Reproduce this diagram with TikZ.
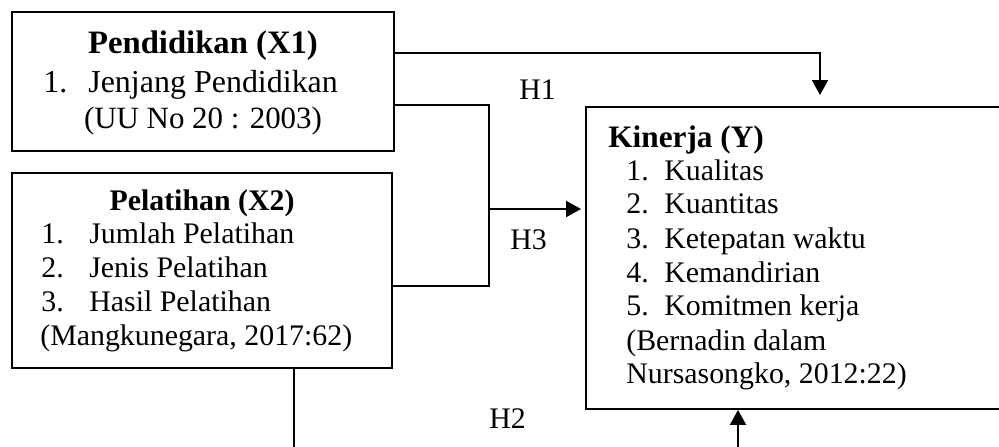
\documentclass[tikz,border=0pt]{standalone}
\usepackage{fontspec}
\setmainfont{Liberation Serif}
\usetikzlibrary{arrows.meta}
\begin{document}
\begin{tikzpicture}[x=0.02cm,y=-0.02cm,
  box/.style={draw,line width=1.1pt,rectangle,inner sep=0},
  txt/.style={inner sep=0,anchor=base west,font=\fontsize{17}{19}\selectfont},
  bigtxt/.style={inner sep=0,anchor=base west,font=\fontsize{18.2}{20}\selectfont},
  ttl/.style={inner sep=0,anchor=base,font=\fontsize{17}{19}\selectfont\bfseries},
  ttlw/.style={inner sep=0,anchor=base west,font=\fontsize{17.8}{19}\selectfont\bfseries},
  conn/.style={line width=1.1pt},
  arr/.style={conn,-{Triangle[length=0.3cm,width=0.32cm]}}]
\useasboundingbox (0,0) rectangle (999,446);
\clip (0,0) rectangle (999,446);
% boxes
\node[box,minimum width=7.64cm,minimum height=2.78cm] (x1) at (203,81.5) {};
\node[box,minimum width=7.6cm,minimum height=3.9cm] (x2) at (202,270.5) {};
\node[box,minimum width=8.48cm,minimum height=6.04cm] (y) at (798,258) {};
% X1 text
\node[ttl,font=\fontsize{18.6}{20}\selectfont\bfseries] (t1) at (203,53) {Pendidikan (X1)};
\node[bigtxt] (t1n) at (43,92) {1.};
\node[bigtxt] (t1a) at (88,92) {Jenjang Pendidikan};
\node[inner sep=0,anchor=base,font=\fontsize{17.6}{20}\selectfont] (t1c) at (203,128) {(UU No 20 : 2003)};
% X2 text
\node[ttl] (t2) at (202,210) {Pelatihan (X2)};
\node[txt] (t2n1) at (41,243) {1.};
\node[txt] (t2a) at (89,243) {Jumlah Pelatihan};
\node[txt] (t2n2) at (41,277) {2.};
\node[txt] (t2b) at (89,277) {Jenis Pelatihan};
\node[txt] (t2n3) at (41,311) {3.};
\node[txt] (t2c) at (89,311) {Hasil Pelatihan};
\node[txt] (t2d) at (40,345) {(Mangkunegara, 2017:62)};
% Y text
\node[ttlw] (t3) at (608,147) {Kinerja (Y)};
\node[txt] (t3n1) at (626,180) {1.};
\node[txt] (t3a) at (664,180) {Kualitas};
\node[txt] (t3n2) at (626,213) {2.};
\node[txt] (t3b) at (664,213) {Kuantitas};
\node[txt] (t3n3) at (626,248) {3.};
\node[txt] (t3c) at (664,248) {Ketepatan waktu};
\node[txt] (t3n4) at (626,282) {4.};
\node[txt] (t3d) at (664,282) {Kemandirian};
\node[txt] (t3n5) at (626,315) {5.};
\node[txt] (t3e) at (664,315) {Komitmen kerja};
\node[txt] (t3f) at (626,350) {(Bernadin dalam};
\node[txt] (t3g) at (626,383) {Nursasongko, 2012:22)};
% labels
\node[txt] (h1) at (519,99) {H1};
\node[txt] (h3) at (510,249) {H3};
\node[txt] (h2) at (489,428) {H2};
% connectors
\coordinate (h1a) at (820,53);
\coordinate (h1b) at (820,95);
\draw[arr] (x1.east |- h1a) -- (h1a) -- (h1b);
\coordinate (j1) at (489,105);
\coordinate (j2) at (489,286);
\coordinate (j3) at (489,209);
\draw[conn] (x1.east |- j1) -- (j1) -- (j2) -- (x2.east |- j2);
\draw[arr,shorten >=4*0.02cm] (j3) -- (y.west |- j3);
\coordinate (b1) at (294,447);
\coordinate (b2) at (738,447);
\draw[conn] (x2.south -| b1) -- (b1);
\draw[arr] (b2) -- (y.south -| b2);
\end{tikzpicture}
\end{document}
